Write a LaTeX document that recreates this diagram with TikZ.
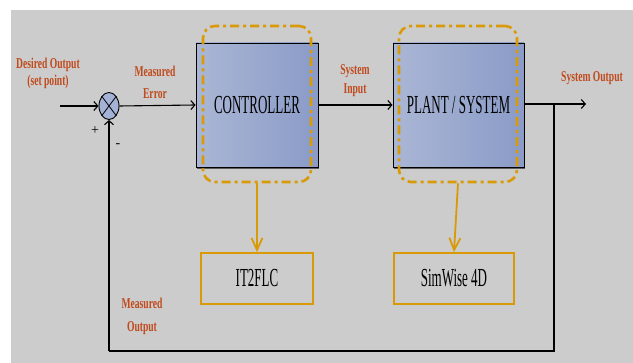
\documentclass[tikz,border=0pt]{standalone}
\usepackage{fontspec}
\setmainfont{Liberation Serif}
\newfontfamily\labfont[FakeStretch=0.64]{Liberation Serif Bold}
\newfontfamily\boxfont[FakeStretch=0.5]{Liberation Serif}
\usetikzlibrary{shapes.geometric,arrows.meta,shadows}
\definecolor{bg}{HTML}{CCCCCC}
\definecolor{lab}{HTML}{C04A1C}
\definecolor{gold}{HTML}{D99A06}
\definecolor{bluel}{HTML}{AAB6D4}
\definecolor{blued}{HTML}{8A9BC8}
\definecolor{sumfill}{HTML}{A4B2D6}
\begin{document}
\begin{tikzpicture}[x=1pt,y=-1pt,
  blk/.style={draw=black, line width=0.9pt, left color=bluel, right color=blued,
    inner sep=0pt, font=\boxfont\fontsize{26}{28}\selectfont,
    drop shadow={shadow xshift=1pt, shadow yshift=-2pt, opacity=0.55, fill=black}},
  hl/.style={draw=gold, line width=2.6pt, rounded corners=12pt,
    dash pattern=on 9pt off 4pt on 3pt off 4pt, inner sep=0pt},
  tool/.style={draw=gold, line width=1.8pt, inner sep=0pt,
    font=\boxfont\fontsize{26}{28}\selectfont},
  lbl/.style={text=lab, align=center, inner sep=0pt},
  sig/.style={draw=black, line width=1.1pt, -{Straight Barb[length=4pt,width=9pt]}},
  wire/.style={draw=black, line width=1.1pt},
  ga/.style={draw=gold, line width=1.8pt, -{Straight Barb[length=12pt,width=11pt]}}
]
\useasboundingbox (0,0) rectangle (633,363);
\fill[white] (0,0) rectangle (633,363);
\fill[bg] (11,10) rectangle (633,363);

% blocks
\node[blk, minimum width=122pt, minimum height=124pt] (ctrl) at (257,105) {CONTROLLER};
\node[blk, minimum width=131pt, minimum height=124pt] (plant) at (458.5,105) {PLANT / SYSTEM};
\node[hl, minimum width=108pt, minimum height=156pt] (ctrlhl) at (257,104) {};
\node[hl, minimum width=118pt, minimum height=156pt] (planthl) at (458,104) {};
\node[tool, minimum width=112pt, minimum height=51pt] (it2) at (257,278.5) {IT2FLC};
\node[tool, minimum width=120pt, minimum height=51pt] (sim) at (454,278.5) {SimWise 4D};

% summing junction
\node[ellipse, draw=black, line width=0.9pt, fill=sumfill, minimum width=20pt,
  minimum height=27pt, inner sep=0pt] (sum) at (109,106) {};
\draw[line width=0.8pt] (sum.north west) -- (sum.south east);
\draw[line width=0.8pt] (sum.north east) -- (sum.south west);

% coordinates
\coordinate (in) at (60,106);
\coordinate (br) at (554,104);
\coordinate (out) at (586,104);
\coordinate (bR) at (554,351);
\coordinate (bL) at (109,351);

% signal lines
\draw[sig] (in) -- (sum.west);
\draw[sig] (sum.east) -- (ctrl.west);
\draw[sig] (ctrl.east) -- (plant.west);
\draw[sig] (plant.east |- out) -- (out);
\draw[wire] (br) -- (bR) -- (bL);
\draw[sig] (bL) -- (sum.south);

% tool arrows
\draw[ga] (ctrlhl.south) -- (it2.north);
\draw[ga] (planthl.south) -- (sim.north);

% labels
\node[lbl, font=\labfont\fontsize{15}{17}\selectfont] (lset) at (48,73) {Desired Output\\(set point)};
\node[lbl, font=\labfont\fontsize{15}{22}\selectfont] (lerr) at (155,82) {Measured\\Error};
\node[lbl, font=\labfont\fontsize{15}{19}\selectfont] (lin) at (355,81) {System\\Input};
\node[lbl, font=\labfont\fontsize{15}{17}\selectfont] (lout) at (592,78) {System Output};
\node[lbl, font=\labfont\fontsize{15}{23}\selectfont] (lmo) at (142,316) {Measured\\Output};
\node[inner sep=0pt, font=\fontsize{14}{14}\selectfont] (plus) at (95,131) {+};
\node[inner sep=0pt, font=\fontsize{14}{14}\selectfont] (minus) at (118,146) {-};
\end{tikzpicture}
\end{document}
